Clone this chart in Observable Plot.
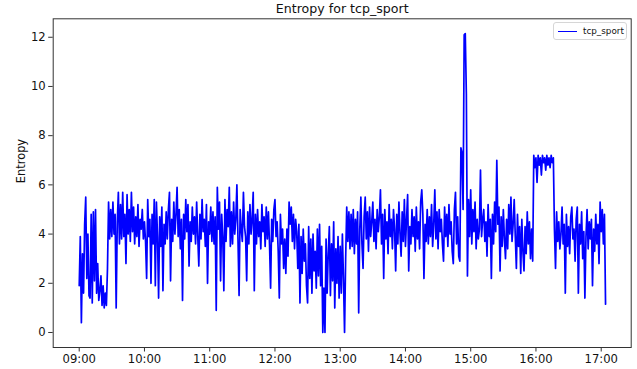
<!DOCTYPE html>
<html>
<head>
<meta charset="utf-8">
<script src="https://cdn.jsdelivr.net/npm/d3@7"></script>
<script src="https://cdn.jsdelivr.net/npm/@observablehq/plot@0.6"></script>
<style>
  html, body { margin: 0; padding: 0; background: #fff; }
  #wrap { position: relative; width: 637px; height: 369px; font-family: "DejaVu Sans", sans-serif; }
  #legend { position: absolute; left: 553px; top: 22px; width: 72px; height: 16px; border: 1px solid #d6d6d6; border-radius: 3px; background: rgba(255,255,255,0.85); box-sizing: content-box; }
  #legend .swatch { position: absolute; left: 4px; top: 7.5px; width: 19px; height: 0; border-top: 1.5px solid #0000ff; }
  #legend .lab { position: absolute; left: 29px; top: 1.5px; font-size: 8.8px; color: #111; line-height: 12px; white-space: nowrap; }
</style>
</head>
<body>
<div id="wrap"></div>
<script>
// ---- data ----
const title = "Entropy for tcp_sport";
const seriesName = "tcp_sport";
const yLabel = "Entropy";
const startTime = "2020-01-01T09:00:00Z";   // first sample
const stepMinutes = 1;                        // sampling interval
const xTickHours = ["09:00","10:00","11:00","12:00","13:00","14:00","15:00","16:00","17:00"];
const yTicks = [0, 2, 4, 6, 8, 10, 12];
const entropy = [
  1.9, 3.9, 0.4, 3.2, 1.6, 4.4, 5.5, 2.2, 4.0, 1.5,
  1.4, 4.8, 1.2, 4.9, 2.1, 5.0, 1.6, 2.8, 1.3, 1.7,
  2.3, 1.1, 1.9, 1.0, 1.6, 1.1, 2.6, 5.3, 3.8, 5.0,
  3.9, 5.3, 4.0, 4.8, 1.0, 4.5, 5.7, 3.6, 5.2, 3.8,
  5.7, 3.9, 4.8, 2.8, 5.6, 4.0, 5.0, 3.7, 5.7, 4.1,
  5.1, 3.6, 4.7, 3.9, 5.2, 3.5, 4.6, 4.2, 5.0, 3.8,
  4.5, 3.7, 2.2, 5.4, 3.9, 4.6, 2.0, 4.8, 3.6, 5.4,
  1.9, 5.3, 3.9, 1.4, 4.7, 3.5, 5.1, 1.7, 4.4, 3.6,
  4.9, 3.8, 5.0, 5.7, 2.1, 4.6, 3.7, 5.3, 4.0, 4.8,
  5.9, 3.9, 5.0, 3.4, 4.6, 1.3, 4.8, 3.8, 5.4, 4.1,
  5.2, 2.7, 4.5, 3.7, 5.1, 4.0, 4.7, 3.6, 5.3, 3.9,
  2.7, 4.8, 3.8, 5.4, 4.1, 4.6, 3.5, 5.2, 2.0, 4.5,
  4.0, 5.1, 3.7, 4.9, 3.6, 4.7, 0.9, 5.9, 4.2, 5.3,
  2.1, 4.8, 3.9, 1.7, 5.4, 3.7, 5.0, 4.3, 5.9, 3.5,
  4.9, 3.6, 5.3, 4.0, 4.6, 6.0, 3.8, 1.5, 5.0, 4.2,
  3.7, 5.7, 4.3, 3.9, 2.1, 4.9, 3.6, 5.2, 4.0, 4.6,
  5.7, 1.7, 4.8, 3.6, 5.0, 3.9, 4.5, 3.4, 5.2, 4.1,
  4.7, 3.5, 5.1, 3.8, 4.9, 3.6, 1.8, 4.6, 3.7, 5.0,
  5.4, 3.9, 4.5, 3.3, 1.4, 4.8, 3.6, 4.2, 2.6, 3.8,
  2.4, 4.2, 3.1, 5.3, 4.4, 5.1, 3.7, 4.8, 3.4, 4.6,
  4.1, 2.6, 4.4, 1.2, 3.9, 2.4, 4.2, 2.9, 3.6, 1.9,
  1.2, 4.3, 2.2, 3.8, 1.6, 4.0, 2.5, 3.3, 1.8, 4.2,
  2.3, 4.4, 1.9, 3.5, 0.0, 1.8, 0.0, 3.8, 1.6, 3.2,
  4.3, 1.5, 3.6, 2.1, 4.5, 1.0, 3.4, 2.0, 3.9, 1.4,
  3.5, 1.6, 4.0, 2.2, 0.0, 3.0, 5.1, 3.7, 4.9, 3.4,
  4.8, 3.5, 5.0, 3.2, 4.6, 3.6, 4.9, 0.8, 4.2, 5.5,
  3.6, 2.6, 4.7, 5.5, 3.8, 4.9, 3.3, 5.1, 3.9, 4.5,
  5.3, 3.7, 4.6, 3.4, 5.0, 4.1, 4.7, 5.8, 3.6, 4.8,
  2.2, 5.0, 3.8, 4.5, 3.2, 5.2, 3.9, 4.6, 3.4, 5.0,
  4.2, 2.5, 4.8, 3.6, 5.3, 4.0, 3.1, 4.9, 3.7, 5.4,
  3.5, 4.6, 5.6, 2.5, 4.3, 3.6, 5.0, 3.9, 4.7, 3.3,
  5.1, 3.8, 4.5, 3.4, 5.3, 5.8, 4.8, 2.2, 4.4, 3.7,
  5.0, 3.6, 4.7, 3.9, 5.2, 3.5, 4.4, 5.8, 3.8, 4.9,
  3.4, 5.0, 4.1, 4.6, 3.6, 2.9, 5.1, 3.9, 4.8, 3.5,
  5.2, 4.0, 4.5, 3.3, 2.8, 5.0, 5.7, 3.6, 4.7, 3.1,
  2.9, 7.5, 7.3, 5.0, 12.1, 12.15, 9.7, 2.3, 5.4, 3.9,
  5.8, 3.6, 5.0, 4.1, 5.3, 3.4, 4.6, 3.8, 4.2, 6.6,
  3.9, 4.6, 5.0, 3.7, 4.5, 3.1, 5.2, 3.9, 4.6, 2.2,
  4.8, 3.6, 5.3, 4.1, 7.0, 4.4, 5.1, 2.5, 4.7, 3.5,
  5.0, 3.8, 3.0, 4.6, 3.4, 5.2, 4.0, 5.5, 3.7, 4.4,
  5.4, 3.9, 2.6, 4.8, 3.5, 4.3, 2.4, 4.6, 3.3, 2.5,
  4.3, 3.2, 4.9, 3.6, 4.5, 3.0, 4.2, 2.9, 7.2, 6.7,
  7.1, 6.1, 7.2, 6.8, 7.1, 6.4, 7.2, 6.9, 7.1, 6.6,
  7.2, 6.8, 7.1, 6.7, 7.2, 6.9, 7.1, 4.2, 2.6, 4.9,
  3.7, 4.5, 3.4, 4.0, 5.1, 3.6, 4.4, 1.6, 4.8, 3.5,
  4.3, 3.2, 4.7, 5.1, 3.8, 4.2, 2.9, 4.6, 5.1, 1.6,
  4.4, 3.6, 4.9, 3.0, 4.1, 1.4, 3.9, 5.0, 3.4, 4.5,
  3.8, 4.6, 1.9, 4.2, 3.3, 4.8, 3.6, 4.4, 2.8, 5.3,
  4.1, 5.0, 3.6, 4.8, 1.15
];

// ---- build table ----
const t0 = new Date(startTime).getTime();
const data = entropy.map((v, i) => ({ time: new Date(t0 + i * stepMinutes * 60000), value: v }));
const day = startTime.slice(0, 10);
const xTicks = xTickHours.map(h => new Date(`${day}T${h}:00Z`));
const xDomain = [new Date(`${day}T08:36:05Z`), new Date(`${day}T17:27:35Z`)];

const chart = Plot.plot({
  width: 637,
  height: 369,
  marginLeft: 52.7,
  marginRight: 6.3,
  marginTop: 18.3,
  marginBottom: 22,
  style: { fontFamily: "DejaVu Sans, sans-serif", background: "#fff", color: "#111" },
  x: { type: "utc", domain: xDomain },
  y: { domain: [-0.61, 12.75] },
  marks: [
    Plot.line(data, { x: "time", y: "value", stroke: "#0000ff", strokeWidth: 1.7, strokeLinejoin: "round" }),
    Plot.frame({ stroke: "#333", strokeWidth: 1 }),
    Plot.axisX({ ticks: xTicks, tickFormat: d3.utcFormat("%H:%M"), tickSize: 4.5, tickPadding: 2.5, fontSize: 11.6, label: null, stroke: "#333" }),
    Plot.axisY({ ticks: yTicks, tickSize: 4.5, tickPadding: 3, fontSize: 11.6, label: null, stroke: "#333" }),
    Plot.text([title], { frameAnchor: "top", dy: -9.5, fontSize: 12.6, fill: "#111", lineAnchor: "middle" }),
    Plot.text([yLabel], { frameAnchor: "left", dx: -32, rotate: -90, fontSize: 11.4, fill: "#111", lineAnchor: "middle" })
  ]
});
const wrap = document.getElementById("wrap");
wrap.appendChild(chart);
const lg = document.createElement("div");
lg.id = "legend";
lg.innerHTML = `<div class="swatch"></div><div class="lab">${seriesName}</div>`;
wrap.appendChild(lg);
</script>
</body>
</html>
